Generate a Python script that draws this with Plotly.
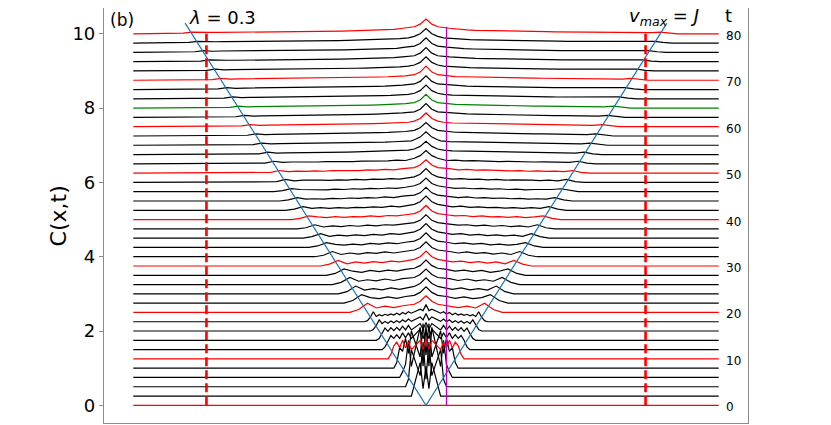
import plotly.graph_objects as go

# time of each curve, vertical shift per unit time
times = [0, 2, 4, 6, 8, 10, 12, 14, 16, 18, 20, 22, 24, 26, 28, 30, 32, 34, 36, 38, 40,
         42, 44, 46, 48, 50, 52, 54, 56, 58, 60, 62, 64, 66, 68, 70, 72, 74, 76, 78, 80]
shift_per_t = 0.125
x_edge = 100

# early curves: C(x,t) above the baseline at x = 0, 1, 2, ... (symmetric in x)
c00 = [0.0]
c02 = [0.8, 0.2, 0.9, 0.5, 0.12, 0.0]
c04 = [0.2, 1.2, 0.3, 1.3, 0.25, 1.0, 0.2, 0.0]
c06 = [1.4, 0.3, 1.35, 0.25, 1.2, 0.3, 1.0, 0.35, 0.15, 0.0]
c08 = [0.35, 1.2, 0.3, 1.15, 0.35, 1.0, 0.4, 0.8, 0.45, 0.55, 0.15, 0.0]
c10 = [0.55, 0.25, 0.5, 0.2, 0.5, 0.25, 0.45, 0.3, 0.5, 0.3, 0.45, 0.35, 0.12, 0.0]
c12 = [0.5, 0.3, 0.55, 0.3, 0.5, 0.3, 0.45, 0.32, 0.45, 0.3, 0.4, 0.3, 0.38, 0.25, 0.07, 0.0]
c14 = [0.48, 0.3, 0.45, 0.3, 0.42, 0.28, 0.4, 0.28, 0.38, 0.27, 0.35, 0.26, 0.34, 0.24,
       0.33, 0.18, 0.05, 0.0]
c16 = [0.47, 0.3, 0.38, 0.27, 0.34, 0.26, 0.32, 0.25, 0.3, 0.23, 0.28, 0.22, 0.27, 0.21,
       0.26, 0.2, 0.3, 0.15, 0.04, 0.0]
c18 = [0.46, 0.3, 0.34, 0.25, 0.3, 0.23, 0.27, 0.21, 0.25, 0.19, 0.23, 0.18, 0.21, 0.17,
       0.2, 0.16, 0.19, 0.14, 0.27, 0.12, 0.03, 0.0]

# later curves: values at x = 0, 2, 4, then every 3 sites out to t+6 (last three: t, t+3, t+6)
c20 = [0.45, 0.30, 0.22, 0.18, 0.13, 0.17, 0.12, 0.25, 0.08, 0.0]
c22 = [0.44, 0.29, 0.21, 0.18, 0.13, 0.17, 0.12, 0.15, 0.23, 0.07, 0.0]
c24 = [0.43, 0.28, 0.20, 0.17, 0.12, 0.16, 0.11, 0.14, 0.10, 0.21, 0.06, 0.0]
c26 = [0.42, 0.27, 0.19, 0.16, 0.11, 0.15, 0.10, 0.13, 0.09, 0.19, 0.06, 0.0]
c28 = [0.41, 0.26, 0.19, 0.16, 0.11, 0.14, 0.10, 0.13, 0.08, 0.11, 0.17, 0.05, 0.0]
c30 = [0.40, 0.25, 0.18, 0.15, 0.11, 0.13, 0.09, 0.12, 0.08, 0.11, 0.06, 0.15, 0.05, 0.0]
c32 = [0.40, 0.25, 0.18, 0.14, 0.10, 0.13, 0.09, 0.11, 0.07, 0.10, 0.06, 0.14, 0.04, 0.0]
c34 = [0.39, 0.24, 0.17, 0.14, 0.10, 0.12, 0.09, 0.11, 0.07, 0.09, 0.06, 0.08, 0.13, 0.04, 0.0]
c36 = [0.39, 0.24, 0.17, 0.14, 0.10, 0.12, 0.08, 0.10, 0.07, 0.09, 0.06, 0.08, 0.05, 0.12,
       0.04, 0.0]
c38 = [0.38, 0.23, 0.17, 0.13, 0.10, 0.11, 0.08, 0.10, 0.07, 0.09, 0.06, 0.08, 0.05, 0.11,
       0.03, 0.0]
c40 = [0.38, 0.23, 0.16, 0.13, 0.10, 0.11, 0.08, 0.10, 0.07, 0.08, 0.06, 0.08, 0.05, 0.07,
       0.10, 0.03, 0.0]
c42 = [0.38, 0.23, 0.16, 0.13, 0.09, 0.11, 0.08, 0.09, 0.07, 0.08, 0.06, 0.07, 0.05, 0.07,
       0.05, 0.10, 0.03, 0.0]
c44 = [0.37, 0.22, 0.16, 0.13, 0.09, 0.11, 0.08, 0.09, 0.07, 0.08, 0.06, 0.07, 0.05, 0.06,
       0.05, 0.09, 0.03, 0.0]
c46 = [0.37, 0.22, 0.16, 0.12, 0.09, 0.10, 0.08, 0.09, 0.07, 0.08, 0.06, 0.07, 0.05, 0.06,
       0.05, 0.06, 0.08, 0.03, 0.0]
c48 = [0.37, 0.22, 0.15, 0.12, 0.09, 0.10, 0.08, 0.09, 0.07, 0.08, 0.06, 0.07, 0.055, 0.06,
       0.05, 0.06, 0.04, 0.08, 0.02, 0.0]
c50 = [0.36, 0.22, 0.15, 0.12, 0.09, 0.10, 0.08, 0.085, 0.07, 0.075, 0.06, 0.065, 0.05, 0.06,
       0.045, 0.055, 0.04, 0.07, 0.02, 0.0]
c52 = [0.36, 0.22, 0.15, 0.12, 0.09, 0.10, 0.08, 0.085, 0.07, 0.075, 0.06, 0.065, 0.055,
       0.06, 0.05, 0.055, 0.045, 0.05, 0.04, 0.07, 0.02, 0.0]
c54 = [0.36, 0.22, 0.15, 0.12, 0.10, 0.095, 0.085, 0.08, 0.075, 0.07, 0.065, 0.062, 0.058,
       0.055, 0.05, 0.05, 0.045, 0.045, 0.04, 0.065, 0.02, 0.0]
c56 = [0.36, 0.22, 0.15, 0.12, 0.10, 0.095, 0.085, 0.08, 0.075, 0.07, 0.066, 0.062, 0.058,
       0.055, 0.052, 0.05, 0.047, 0.045, 0.043, 0.035, 0.06, 0.02, 0.0]
c58 = [0.36, 0.22, 0.15, 0.12, 0.10, 0.095, 0.088, 0.082, 0.077, 0.072, 0.068, 0.064, 0.06,
       0.057, 0.054, 0.051, 0.048, 0.046, 0.044, 0.036, 0.058, 0.02, 0.0]
c60 = [0.37, 0.22, 0.15, 0.12, 0.10, 0.095, 0.088, 0.082, 0.077, 0.072, 0.068, 0.064, 0.06,
       0.057, 0.054, 0.051, 0.048, 0.046, 0.044, 0.042, 0.035, 0.055, 0.02, 0.0]
c62 = [0.37, 0.22, 0.15, 0.12, 0.10, 0.094, 0.087, 0.081, 0.076, 0.071, 0.067, 0.063, 0.059,
       0.056, 0.053, 0.05, 0.047, 0.045, 0.043, 0.041, 0.034, 0.053, 0.018, 0.0]
c64 = [0.37, 0.22, 0.15, 0.12, 0.10, 0.094, 0.087, 0.081, 0.076, 0.071, 0.067, 0.063, 0.059,
       0.056, 0.053, 0.05, 0.048, 0.046, 0.044, 0.042, 0.04, 0.034, 0.052, 0.018, 0.0]
c66 = [0.37, 0.22, 0.15, 0.12, 0.10, 0.094, 0.087, 0.081, 0.076, 0.071, 0.067, 0.063, 0.06,
       0.057, 0.054, 0.051, 0.049, 0.047, 0.045, 0.043, 0.041, 0.039, 0.033, 0.05, 0.018, 0.0]
c68 = [0.37, 0.22, 0.15, 0.12, 0.10, 0.094, 0.087, 0.081, 0.076, 0.071, 0.067, 0.063, 0.06,
       0.057, 0.054, 0.051, 0.049, 0.047, 0.045, 0.043, 0.041, 0.039, 0.033, 0.049, 0.018, 0.0]
c70 = [0.38, 0.22, 0.15, 0.12, 0.10, 0.094, 0.087, 0.081, 0.076, 0.071, 0.067, 0.063, 0.06,
       0.057, 0.054, 0.051, 0.049, 0.047, 0.045, 0.043, 0.041, 0.04, 0.038, 0.032, 0.048,
       0.017, 0.0]
c72 = [0.38, 0.23, 0.16, 0.13, 0.11, 0.10, 0.09, 0.084, 0.078, 0.073, 0.069, 0.065, 0.061,
       0.058, 0.055, 0.052, 0.05, 0.048, 0.046, 0.044, 0.042, 0.04, 0.039, 0.038, 0.032,
       0.047, 0.017, 0.0]
c74 = [0.38, 0.23, 0.16, 0.13, 0.11, 0.10, 0.09, 0.084, 0.078, 0.073, 0.069, 0.065, 0.061,
       0.058, 0.055, 0.052, 0.05, 0.048, 0.046, 0.044, 0.042, 0.04, 0.039, 0.038, 0.032,
       0.046, 0.017, 0.0]
c76 = [0.39, 0.24, 0.17, 0.14, 0.11, 0.10, 0.092, 0.086, 0.08, 0.075, 0.07, 0.066, 0.062,
       0.059, 0.056, 0.053, 0.05, 0.048, 0.046, 0.044, 0.042, 0.04, 0.039, 0.038, 0.037,
       0.031, 0.046, 0.017, 0.0]
c78 = [0.39, 0.25, 0.18, 0.14, 0.12, 0.10, 0.093, 0.087, 0.081, 0.076, 0.071, 0.067, 0.063,
       0.06, 0.057, 0.054, 0.051, 0.049, 0.047, 0.045, 0.043, 0.041, 0.04, 0.039, 0.038,
       0.037, 0.031, 0.045, 0.017, 0.0]
c80 = [0.40, 0.26, 0.19, 0.15, 0.12, 0.105, 0.095, 0.088, 0.082, 0.077, 0.072, 0.068, 0.064,
       0.061, 0.058, 0.055, 0.052, 0.05, 0.048, 0.046, 0.044, 0.042, 0.04, 0.039, 0.038,
       0.037, 0.031, 0.045, 0.017, 0.0]

curves = [c00, c02, c04, c06, c08, c10, c12, c14, c16, c18, c20, c22, c24, c26, c28, c30,
          c32, c34, c36, c38, c40, c42, c44, c46, c48, c50, c52, c54, c56, c58, c60, c62,
          c64, c66, c68, c70, c72, c74, c76, c78, c80]

# light cone x = +-v t, the two dashed markers and the magenta line
cone_v = 1.0
cone_tmax = 82.3
dash_x = 75
dash_t = [0, 80]
mark_x = 7
mark_t = [0, 81.5]
label_times = [0, 10, 20, 30, 40, 50, 60, 70, 80]
green_time = 64


def half_positions(t, vals):
    if t < 20:
        return list(range(len(vals)))
    outer = vals[3:]
    n = len(outer)
    pos = [0, 2, 4] + [t + 6 - 3 * (n - 1 - i) for i in range(n)]
    return pos


def colour(t):
    if t == green_time:
        return "#008000"
    if t % 10 == 0:
        return "#ff0000"
    return "#000000"


fig = go.Figure()

for t, vals in zip(times, curves):
    pos = half_positions(t, vals)
    pairs = [(p, v) for i, (p, v) in enumerate(zip(pos, vals)) if i < 3 or p > 4]
    base = t * shift_per_t
    left = [(-p, v) for p, v in reversed(pairs) if p > 0]
    full = [(-x_edge, 0.0)] + left + pairs + [(x_edge, 0.0)]
    fig.add_trace(go.Scatter(
        x=[p for p, v in full],
        y=[base + v for p, v in full],
        mode="lines",
        line=dict(color=colour(t), width=1.2),
        hoverinfo="skip"))

cone_t = [cone_tmax, 0, cone_tmax]
fig.add_trace(go.Scatter(
    x=[-cone_v * cone_t[0], 0, cone_v * cone_t[2]],
    y=[tt * shift_per_t for tt in cone_t],
    mode="lines", line=dict(color="#1f77b4", width=1.2)))

for sx in (-dash_x, dash_x):
    fig.add_trace(go.Scatter(
        x=[sx, sx], y=[tt * shift_per_t for tt in dash_t],
        mode="lines", line=dict(color="#ff0000", width=2.6, dash="9px,4px")))

fig.add_trace(go.Scatter(
    x=[mark_x, mark_x], y=[tt * shift_per_t for tt in mark_t],
    mode="lines", line=dict(color="#bf00bf", width=1.3)))

font = "DejaVu Sans"
notes = [
    dict(x=-104, y=10.37, text="(b)", size=17),
    dict(x=-69.5, y=10.45, text="<i>λ</i> = 0.3", size=18),
    dict(x=81.3, y=10.44, text="<i>v</i><sub><i>max</i></sub> = <i>J</i>", size=18),
    dict(x=103.2, y=10.48, text="t", size=18),
]
for lt in label_times:
    notes.append(dict(x=101.8, y=lt * shift_per_t, text=str(lt), xanchor="left",
                      yshift=-2, size=12))
annotations = []
for n in notes:
    a = dict(xref="x", yref="y", showarrow=False, xanchor="center", yanchor="middle",
             font=dict(family=font, color="#000000", size=n.pop("size")))
    a.update(n)
    annotations.append(a)
annotations.append(dict(
    xref="paper", yref="paper", x=-0.07, y=0.5, text="C(x,t)", textangle=-90,
    showarrow=False, xanchor="center", yanchor="middle",
    font=dict(family=font, size=22, color="#000000")))

# the page puts the figure 8px in from the top-left corner
fig.update_layout(
    width=831, height=425,
    margin=dict(l=96, r=91, t=0, b=10),
    paper_bgcolor="white", plot_bgcolor="white",
    showlegend=False,
    font=dict(family=font, color="#000000"),
    annotations=annotations,
    xaxis=dict(range=[-110, 110], showticklabels=False, ticks="", showgrid=False,
               zeroline=False, showline=True, mirror=False, linecolor="#8c8c8c",
               linewidth=1.2),
    yaxis=dict(range=[-0.476, 10.695], tickvals=[0, 2, 4, 6, 8, 10], ticks="outside",
               ticklen=4, tickcolor="#8c8c8c", tickfont=dict(size=18, family=font),
               showgrid=False, zeroline=False, showline=True, mirror=True,
               linecolor="#8c8c8c", linewidth=1.2),
)

fig.write_html("out.html")
